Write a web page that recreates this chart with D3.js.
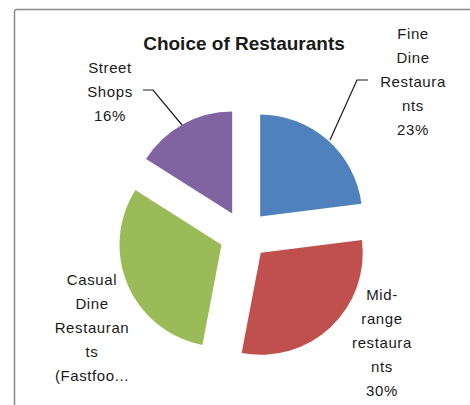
<!DOCTYPE html>
<html>
<head>
<meta charset="utf-8">
<script src="https://cdn.jsdelivr.net/npm/d3@7"></script>
<style>
  body { margin: 0; background: #fff; }
  svg text { font-family: "Liberation Sans", Arial, sans-serif; fill: #1a1a1a; }
</style>
</head>
<body>
<div id="chart"></div>
<script>
// pie data
var categories = ["Fine Dine Restaurants", "Mid-range restaurants", "Casual Dine Restaurants (Fastfood)", "Street Shops"];
var shares = [23, 30, 31, 16];
var colors = ["#4F81BD", "#C0504D", "#9BBB59", "#8064A2"];
// label text as Excel wrapped it
var labelLines = [
    ["Fine", "Dine", "Restaura", "nts", "23%"],
    ["Mid-", "range", "restaura", "nts", "30%"],
    ["Casual", "Dine", "Restauran", "ts", "(Fastfoo..."],
    ["Street", "Shops", "16%"]
];

var width = 470, height = 405;
var cx = 244, cy = 235, radius = 102, explode = 24.5;
var lineH = 24;

var svg = d3.select("#chart")
    .append("svg")
    .attr("width", width)
    .attr("height", height);

// chart area frame, runs off the right and bottom
svg.append("rect")
    .attr("x", 14.5)
    .attr("y", 9.5)
    .attr("width", 520)
    .attr("height", 500)
    .attr("rx", 2)
    .style("fill", "#fff")
    .style("stroke", "#8c8c8c")
    .style("stroke-width", 1.5);

svg.append("text")
    .attr("x", 244)
    .attr("y", 50)
    .attr("text-anchor", "middle")
    .style("font-size", "19px")
    .style("font-weight", "bold")
    .text("Choice of Restaurants");

var pie = d3.pie().sort(null).value(function (d) { return d; });
var arcs = pie(shares);
var arc = d3.arc().innerRadius(0).outerRadius(radius);

var g = svg.append("g").attr("transform", "translate(" + cx + "," + cy + ")");
g.selectAll("path")
    .data(arcs)
    .enter()
    .append("path")
    .attr("d", arc)
    .attr("transform", function (d) {
        var a = (d.startAngle + d.endAngle) / 2;
        return "translate(" + (Math.sin(a) * explode) + "," + (-Math.cos(a) * explode) + ")";
    })
    .style("fill", function (d, i) { return colors[i]; });

// label anchors (centre x, first baseline)
var labelPos = [[413, 39], [382, 300], [92, 285], [110, 73]];
var labels = svg.selectAll("text.lbl")
    .data(labelLines)
    .enter()
    .append("text")
    .attr("class", "lbl")
    .attr("text-anchor", "middle")
    .style("font-size", "15px")
    .style("letter-spacing", "0.6px");
labels.each(function (lines, i) {
    d3.select(this).selectAll("tspan")
        .data(lines)
        .enter()
        .append("tspan")
        .attr("x", labelPos[i][0])
        .attr("y", function (d, j) { return labelPos[i][1] + j * lineH; })
        .text(function (d) { return d; });
});

// leader lines
var leaders = [
    [[330, 140], [357, 80], [368, 80]],
    [[182, 125], [153, 90], [143, 90]]
];
svg.selectAll("path.leader")
    .data(leaders)
    .enter()
    .append("path")
    .attr("class", "leader")
    .attr("d", d3.line())
    .style("fill", "none")
    .style("stroke", "#1a1a1a")
    .style("stroke-width", 1.2);
</script>
</body>
</html>
